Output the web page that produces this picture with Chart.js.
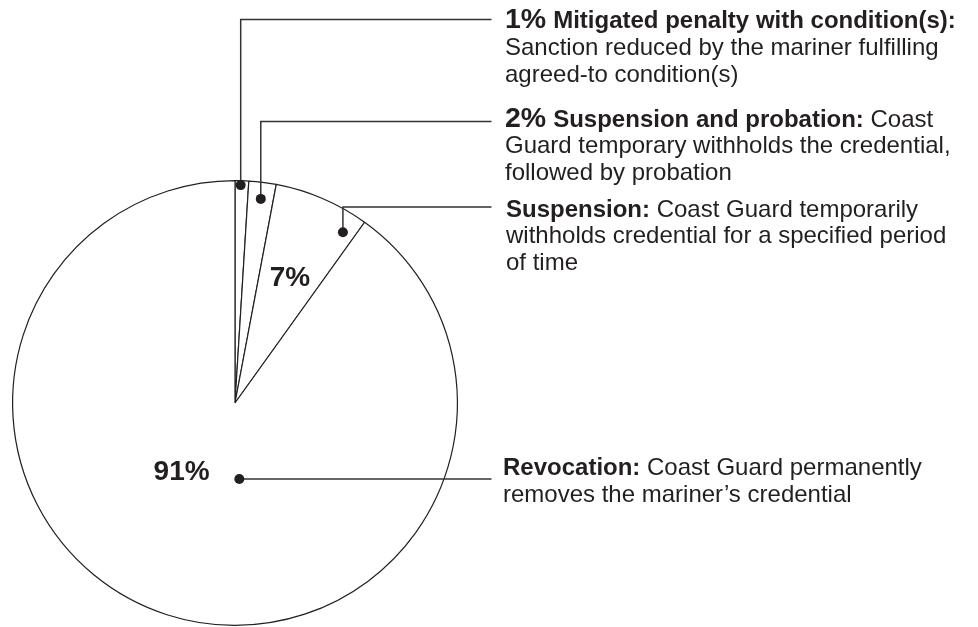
<!DOCTYPE html>
<html>
<head>
<meta charset="utf-8">
<script src="https://cdn.jsdelivr.net/npm/chart.js@4.4.1/dist/chart.umd.min.js"></script>
<style>
html,body{margin:0;padding:0;background:#fff;}
#c{display:block;}
</style>
</head>
<body>
<canvas id="c" width="978" height="627"></canvas>
<script>
// ---- data ----
const categories = ['Mitigated penalty with condition(s)', 'Suspension and probation', 'Suspension', 'Revocation'];
const values = [1, 2, 7, 91];
const percentLabels = ['1%', '2%', '7%', '91%'];

// label text blocks (one per slice)
const blockTitles = ['Mitigated penalty with condition(s):', 'Suspension and probation:', 'Suspension:', 'Revocation:'];
const blockLines = [
  ['', 'Sanction reduced by the mariner fulfilling', 'agreed-to condition(s)'],
  [' Coast', 'Guard temporary withholds the credential,', 'followed by probation'],
  [' Coast Guard temporarily', 'withholds credential for a specified period', 'of time'],
  [' Coast Guard permanently', 'removes the mariner\u2019s credential']
];
const showPctInBlock = [true, true, false, false];
const showPctInSlice = [false, false, true, true];

// ---- styling / placement (not data) ----
const INK = '#231f20';
const FONT = '"Liberation Sans", Arial, Helvetica, sans-serif';
const dotPlace = [ {a:0.42, r:0.98}, {a:0.51, r:0.925}, {a:0.866, r:0.908}, {a:0.435, r:0.342} ];
const sliceLabelPlace = [null, null, {a:0.505, r:0.625}, {a:0.564, r:0.385}];
const leaderY = [19.5, 121.5, 207, null];
const leaderEndX = 491.5;
const blockX = [505, 505, 506, 503];
const blockBaseY = [28.3, 126.7, 216.7, 475];
const lineStep = 26.6;

function polar(arc, fa, fr) {
  const ang = arc.startAngle + (arc.endAngle - arc.startAngle) * fa;
  const r = arc.outerRadius * fr;
  return {x: arc.x + r * Math.cos(ang), y: arc.y + r * Math.sin(ang)};
}

const annotate = {
  id: 'annotate',
  afterDatasetsDraw(chart) {
    const ctx = chart.ctx;
    const arcs = chart.getDatasetMeta(0).data;
    ctx.save();
    arcs.forEach((arc, i) => {
      // slice labels
      if (showPctInSlice[i] && sliceLabelPlace[i]) {
        const p = polar(arc, sliceLabelPlace[i].a, sliceLabelPlace[i].r);
        ctx.font = 'bold 28px ' + FONT;
        ctx.fillStyle = INK;
        ctx.textAlign = 'center';
        ctx.textBaseline = 'alphabetic';
        ctx.fillText(percentLabels[i], p.x, p.y + 10.5);
      }
      // leader line + dot
      const d = polar(arc, dotPlace[i].a, dotPlace[i].r);
      ctx.strokeStyle = '#333';
      ctx.lineWidth = 1.5;
      ctx.beginPath();
      if (leaderY[i] !== null) {
        ctx.moveTo(d.x, d.y);
        ctx.lineTo(d.x, leaderY[i]);
        ctx.lineTo(leaderEndX, leaderY[i]);
      } else {
        ctx.moveTo(d.x, d.y);
        ctx.lineTo(leaderEndX, d.y);
      }
      ctx.stroke();
      ctx.fillStyle = INK;
      ctx.beginPath();
      ctx.arc(d.x, d.y, 5, 0, Math.PI * 2);
      ctx.fill();

      // text block
      ctx.textAlign = 'left';
      ctx.textBaseline = 'alphabetic';
      let x = blockX[i];
      const y0 = blockBaseY[i];
      if (showPctInBlock[i]) {
        ctx.font = 'bold 28.5px ' + FONT;
        ctx.fillText(percentLabels[i], x, y0);
        x += ctx.measureText(percentLabels[i]).width + 7;
      }
      ctx.font = 'bold 24px ' + FONT;
      ctx.fillText(blockTitles[i], x, y0);
      x += ctx.measureText(blockTitles[i]).width;
      ctx.font = '24px ' + FONT;
      const lines = blockLines[i];
      if (lines[0]) ctx.fillText(lines[0], x, y0);
      for (let k = 1; k < lines.length; k++) {
        ctx.fillText(lines[k], blockX[i], y0 + lineStep * k);
      }
    });
    ctx.restore();
  }
};

new Chart(document.getElementById('c'), {
  type: 'pie',
  data: {
    labels: categories,
    datasets: [{
      data: values,
      backgroundColor: '#ffffff',
      borderColor: INK,
      borderWidth: 1.2,
      borderAlign: 'center'
    }]
  },
  options: {
    responsive: false,
    animation: false,
    devicePixelRatio: 1,
    layout: { padding: { left: 12, top: 180, right: 520, bottom: 1 } },
    plugins: { legend: { display: false }, tooltip: { enabled: false } }
  },
  plugins: [annotate]
});
</script>
</body>
</html>
